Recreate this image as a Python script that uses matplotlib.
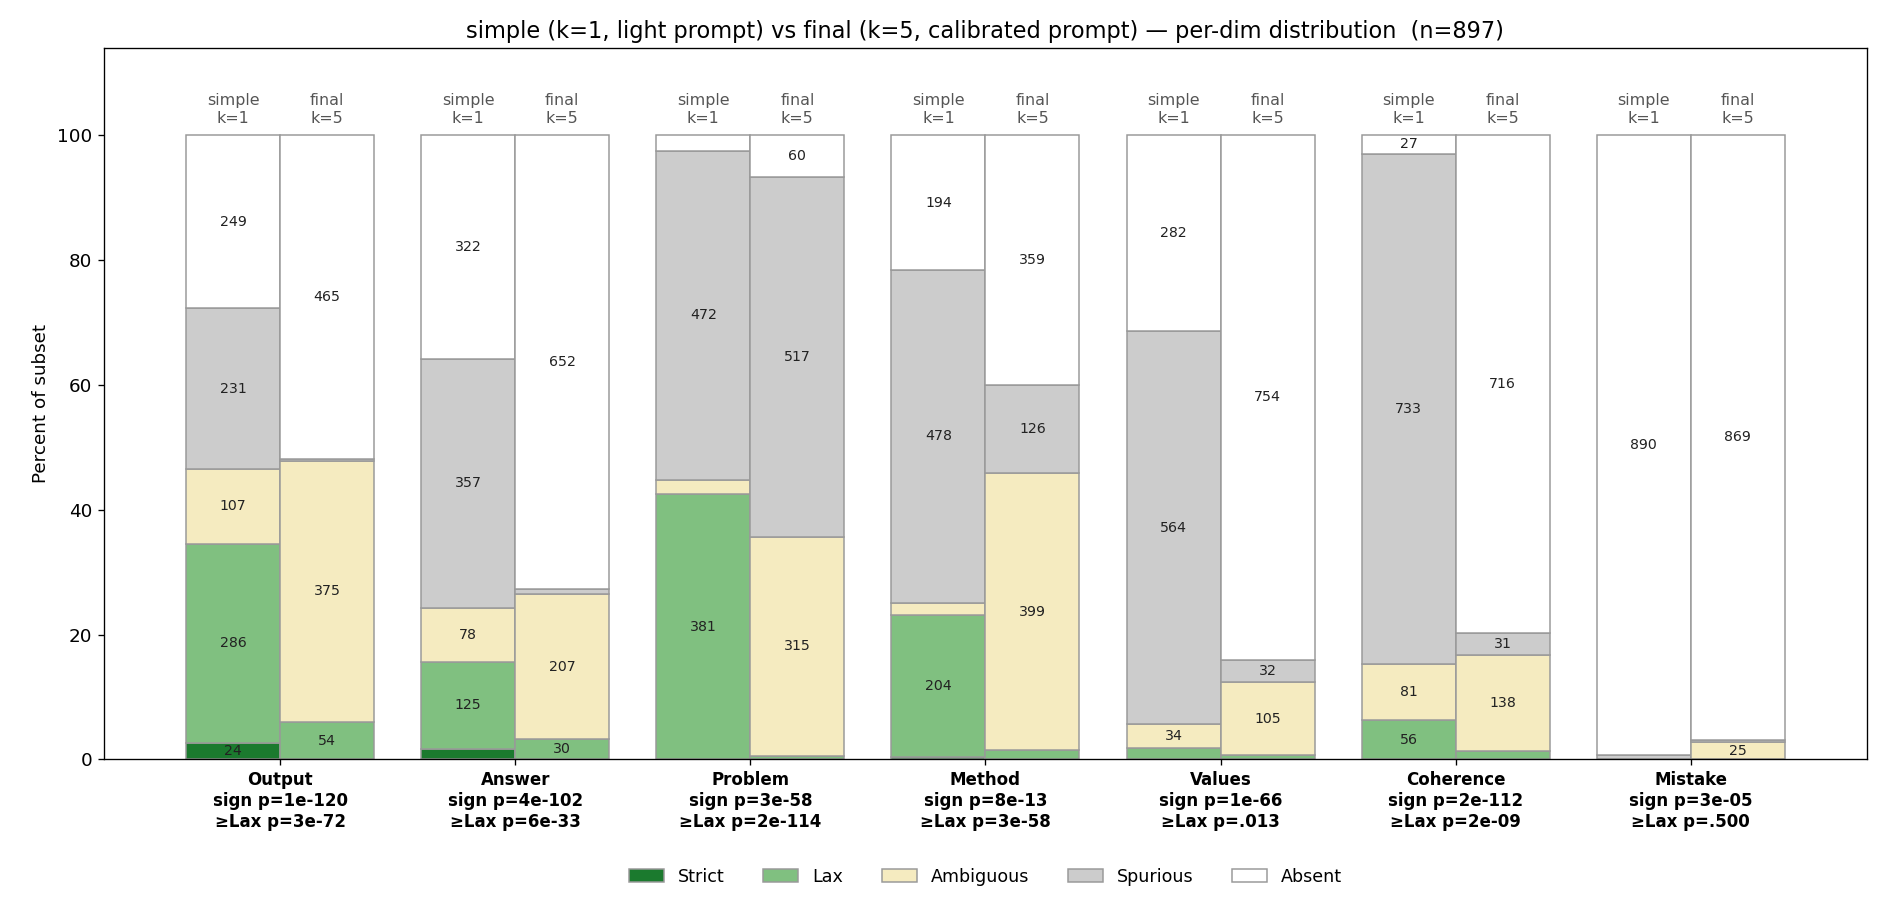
import matplotlib
matplotlib.use("Agg")
import matplotlib.pyplot as plt
import numpy as np

n = 897
dims = ["Output", "Answer", "Problem", "Method", "Values", "Coherence", "Mistake"]
sign_p = ["1e-120", "4e-102", "3e-58", "8e-13", "1e-66", "2e-112", "3e-05"]
lax_p = ["3e-72", "6e-33", "2e-114", "3e-58", "=.013", "2e-09", "=.500"]
cats = ["Strict", "Lax", "Ambiguous", "Spurious", "Absent"]
colors = ["#1b7a2e", "#80c080", "#f5ebc0", "#cccccc", "#ffffff"]

simple = {
    "Strict":    [24, 15, 0, 4, 0, 0, 0],
    "Lax":       [286, 125, 381, 204, 17, 56, 0],
    "Ambiguous": [107, 78, 21, 17, 34, 81, 0],
    "Spurious":  [231, 357, 472, 478, 564, 733, 7],
    "Absent":    [249, 322, 23, 194, 282, 27, 890],
}
final = {
    "Strict":    [0, 0, 0, 0, 0, 0, 0],
    "Lax":       [54, 30, 5, 13, 6, 12, 0],
    "Ambiguous": [375, 207, 315, 399, 105, 138, 25],
    "Spurious":  [3, 8, 517, 126, 32, 31, 3],
    "Absent":    [465, 652, 60, 359, 754, 716, 869],
}

fig, ax = plt.subplots(figsize=(1886/120, 915/120), dpi=120)
x = np.arange(len(dims))
w = 0.4
for data, off, tag in [(simple, -w/2, "simple\nk=1"), (final, w/2, "final\nk=5")]:
    bottom = np.zeros(len(dims))
    for c, col in zip(cats, colors):
        vals = np.array(data[c])
        pct = vals / n * 100
        ax.bar(x + off, pct, w, bottom=bottom, color=col, edgecolor="#999999",
               linewidth=0.9, label=c if off < 0 else None)
        for i, v in enumerate(vals):
            if v >= 24:
                ax.text(x[i] + off, bottom[i] + pct[i] / 2, str(v), ha="center",
                        va="center", fontsize=8.5, color="#222222")
        bottom += pct
    for i in range(len(dims)):
        ax.text(x[i] + off, 101.5, tag, ha="center", va="bottom", fontsize=9.5, color="#555555")

ax.set_xticks(x)
ax.set_xticklabels([f"{d}\nsign p={s}\n≥Lax p{'' if l.startswith('=') else '='}{l}" for d, s, l in zip(dims, sign_p, lax_p)],
                   fontweight="bold", fontsize=10)
ax.set_ylim(0, 114)
ax.set_xlim(-0.75, 6.75)
ax.set_yticks([0, 20, 40, 60, 80, 100])
ax.tick_params(axis="y", labelsize=11)
ax.set_ylabel("Percent of subset", fontsize=11)
ax.set_title("simple (k=1, light prompt) vs final (k=5, calibrated prompt) — per-dim distribution  (n=897)", fontsize=13.5)
ax.legend(loc="upper center", bbox_to_anchor=(0.5, -0.13), ncol=5, frameon=False, fontsize=10.5,
          columnspacing=2.2)
fig.subplots_adjust(left=0.055, right=0.99, top=0.948, bottom=0.17)
fig.savefig("out.png", dpi=120)
